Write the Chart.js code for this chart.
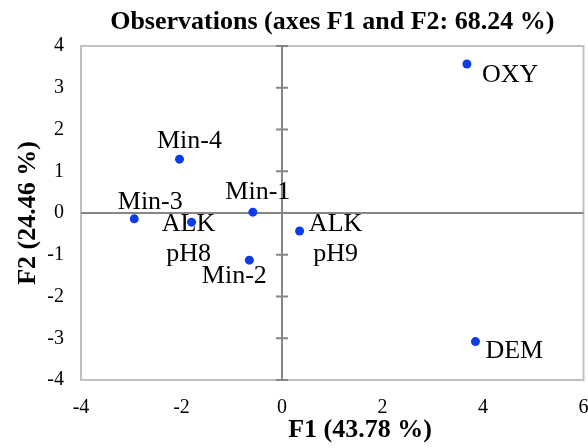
<!DOCTYPE html>
<html>
<head>
<meta charset="utf-8">
<script src="https://cdn.jsdelivr.net/npm/chart.js@4/dist/chart.umd.min.js"></script>
<style>
  html, body { margin: 0; padding: 0; background: #fff; }
  #wrap { position: relative; width: 588px; height: 448px; }
</style>
</head>
<body>
<div id="wrap"><canvas id="c"></canvas></div>
<script>
// ---- data ----
const categories = ['OXY', 'DEM', 'Min-4', 'Min-3', 'Min-1', 'ALK pH8', 'ALK pH9', 'Min-2'];
const labelLines = [['OXY'], ['DEM'], ['Min-4'], ['Min-3'], ['Min-1'], ['ALK', 'pH8'], ['ALK', 'pH9'], ['Min-2']];
const f1Values = [3.68, 3.85, -2.04, -2.94, -0.58, -1.80, 0.35, -0.65];
const f2Values = [3.57, -3.08, 1.29, -0.14, 0.02, -0.22, -0.43, -1.13];
const xTickValues = [-4, -2, 0, 2, 4, 6];
const yTickValues = [-4, -3, -2, -1, 0, 1, 2, 3, 4];
const titleText = 'Observations (axes F1 and F2: 68.24 %)';
const xTitleText = 'F1 (43.78 %)';
const yTitleText = 'F2 (24.46 %)';

// ---- label placement (pixel offsets from the point) ----
const labelPlacement = [
  { align: 'left', dx: 15, dy: 11 },
  { align: 'left', dx: 10, dy: 10 },
  { align: 'center', dx: 10, dy: -18 },
  { align: 'center', dx: 16, dy: -17 },
  { align: 'center', dx: 5, dy: -20 },
  { align: 'center', dx: -3, dy: 2 },
  { align: 'center', dx: 36, dy: -6.5 },
  { align: 'center', dx: -15, dy: 16 }
];

const SERIF = '"Liberation Serif", "Times New Roman", serif';
const points = f1Values.map((x, i) => ({ x: x, y: f2Values[i] }));

const decorPlugin = {
  id: 'decor',
  beforeDatasetsDraw(chart) {
    const ctx = chart.ctx;
    const a = chart.chartArea;
    const xs = chart.scales.x, ys = chart.scales.y;
    const x0 = xs.getPixelForValue(0), y0 = ys.getPixelForValue(0);
    ctx.save();
    // plot border
    ctx.strokeStyle = '#c0c0c0';
    ctx.lineWidth = 2;
    ctx.strokeRect(a.left, a.top, a.right - a.left, a.bottom - a.top);
    // zero lines
    ctx.strokeStyle = '#868686';
    ctx.lineWidth = 2;
    ctx.beginPath();
    ctx.moveTo(a.left, y0); ctx.lineTo(a.right, y0);
    ctx.moveTo(x0, a.top); ctx.lineTo(x0, a.bottom);
    ctx.stroke();
    // tick marks on the vertical zero line
    ctx.beginPath();
    yTickValues.forEach(v => {
      const py = ys.getPixelForValue(v);
      ctx.moveTo(x0 - 6, py); ctx.lineTo(x0 + 6, py);
    });
    ctx.stroke();
    // point labels
    ctx.fillStyle = '#000';
    ctx.font = '26px ' + SERIF;
    ctx.textBaseline = 'middle';
    points.forEach((p, i) => {
      const px = xs.getPixelForValue(p.x), py = ys.getPixelForValue(p.y);
      const pl = labelPlacement[i];
      ctx.textAlign = pl.align;
      labelLines[i].forEach((line, k) => {
        ctx.fillText(line, px + pl.dx, py + pl.dy + k * 30);
      });
    });
    ctx.restore();
  },
  afterDraw(chart) {
    const ctx = chart.ctx;
    const a = chart.chartArea;
    ctx.save();
    ctx.fillStyle = '#000';
    ctx.textBaseline = 'middle';
    ctx.textAlign = 'center';
    ctx.font = 'bold 26px ' + SERIF;
    ctx.fillText(titleText, (a.left + a.right) / 2, 22);
    ctx.fillText(xTitleText, 360, 430);
    ctx.translate(28, (a.top + a.bottom) / 2);
    ctx.rotate(-Math.PI / 2);
    ctx.fillText(yTitleText, 0, 0);
    ctx.restore();
  }
};

new Chart(document.getElementById('c'), {
  type: 'scatter',
  data: {
    datasets: [{
      label: 'Observations',
      data: points,
      pointRadius: 4.5,
      pointHoverRadius: 4.5,
      pointBackgroundColor: '#0a3de8',
      pointBorderWidth: 0,
      borderWidth: 0
    }]
  },
  options: {
    responsive: true,
    maintainAspectRatio: false,
    animation: false,
    events: [],
    layout: { padding: { top: 46, right: 3, left: 0, bottom: 0 } },
    plugins: { legend: { display: false }, title: { display: false }, tooltip: { enabled: false } },
    scales: {
      x: {
        type: 'linear', min: -4, max: 6,
        grid: { display: false, drawTicks: false },
        border: { display: false },
        afterBuildTicks: s => { s.ticks = xTickValues.map(v => ({ value: v })); },
        ticks: { font: { family: SERIF, size: 20 }, color: '#000', padding: 16, maxRotation: 0, autoSkip: false },
        afterFit: s => { s.height = 68; s.paddingLeft = 0; s.paddingRight = 0; }
      },
      y: {
        type: 'linear', min: -4, max: 4,
        grid: { display: false, drawTicks: false },
        border: { display: false },
        afterBuildTicks: s => { s.ticks = yTickValues.map(v => ({ value: v })); },
        ticks: { font: { family: SERIF, size: 20 }, color: '#000', padding: 17, autoSkip: false },
        afterFit: s => { s.width = 81; s.paddingTop = 0; s.paddingBottom = 0; }
      }
    }
  },
  plugins: [decorPlugin]
});
</script>
</body>
</html>
